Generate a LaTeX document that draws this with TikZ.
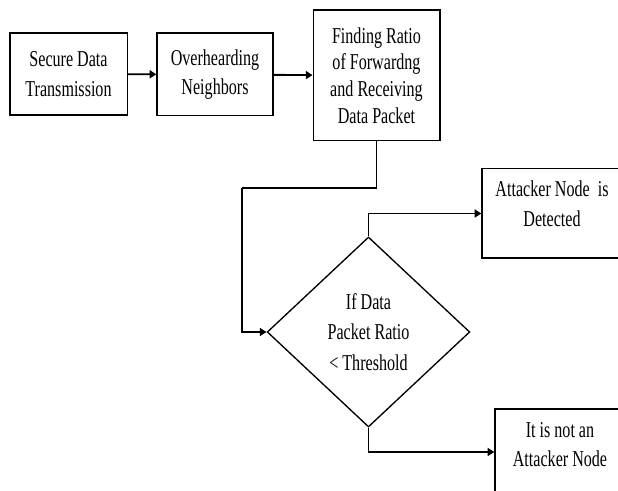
\documentclass[tikz,border=0pt]{standalone}
\usepackage{fontspec}
\setmainfont{Liberation Serif}[FakeStretch=0.71]
\usetikzlibrary{shapes.geometric,arrows.meta}
\tikzset{
  blk/.style={draw,line width=1pt,align=center,inner sep=2pt,
              font=\fontsize{17}{22}\selectfont},
  cond/.style={draw,diamond,line width=1pt,align=center,inner sep=0pt,
               font=\fontsize{17}{23}\selectfont},
  conn/.style={line width=1.4pt,-{Triangle[length=5pt,width=6pt]}},
  wire/.style={line width=1.4pt}
}
\begin{document}
\begin{tikzpicture}[x=0.75pt,y=-0.75pt]
                                \clip (0,0) rectangle (618,491);
                                \node[blk,minimum width=88pt,minimum height=61.5pt] (sec) at (68.5,74) {Secure Data\\Transmission};
                                \node[blk,minimum width=87pt,minimum height=62pt] (over) at (215,74.5) {Overhearding\\Neighbors};
                                \node[blk,minimum width=95pt,minimum height=98pt,font=\fontsize{17}{20}\selectfont] (find) at (376.5,75.5) {Finding Ratio\\of Forwardng\\and Receiving\\Data Packet};
                                \node[cond,minimum width=152pt,minimum height=142.5pt] (dec) at (368.5,332) {If Data\\Packet Ratio\\< Threshold};
                                \node[blk,minimum width=105pt,minimum height=67pt,text depth=15pt] (att) at (552,213.5) {Attacker Node\ \ is\\Detected};
                                \node[blk,minimum width=97.5pt,minimum height=64.5pt,text depth=11pt] (notatk) at (560,452) {It is not an\\Attacker Node};
                                \coordinate (bend) at (242,188);
                                \draw[conn] (sec) -- (over);
                                \draw[conn] (over) -- (find);
                                \draw[wire] (find.south) |- (bend);
                                \draw[conn] (bend) |- (dec.west);
                                \draw[conn] (dec.north) |- (att.west);
                                \draw[conn] (dec.south) |- (notatk.west);
                            \end{tikzpicture}
\end{document}
